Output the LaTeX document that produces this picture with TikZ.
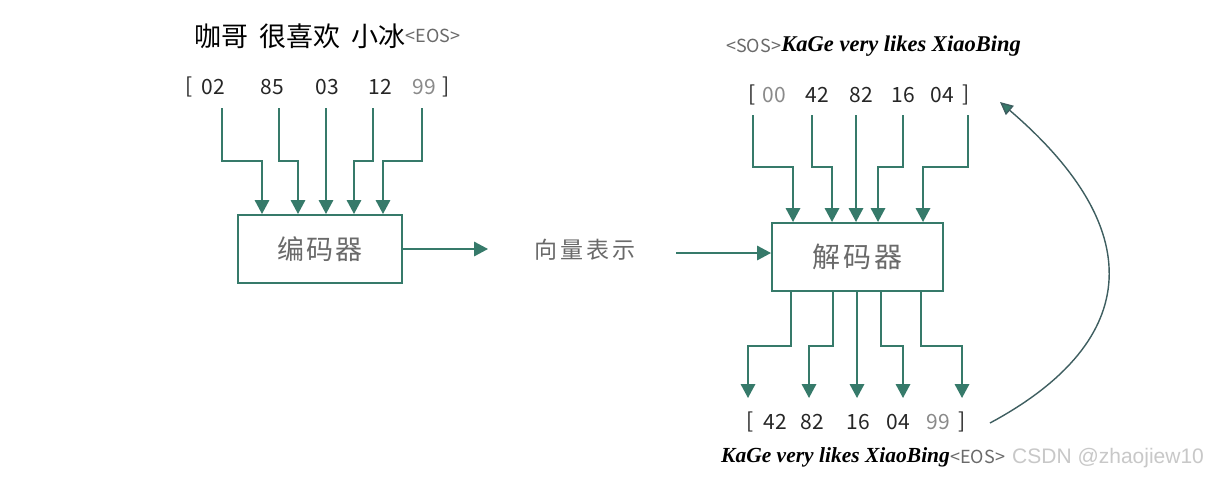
\documentclass[tikz,border=0pt]{standalone}
\usepackage{fontspec}
\setmainfont{Noto Sans CJK SC}
\newfontfamily\cjk{Noto Sans CJK SC}
\newfontfamily\hand{Liberation Serif}
\newfontfamily\wm{Liberation Sans}
\usetikzlibrary{arrows.meta}
\definecolor{teal1}{HTML}{367A6A}
\definecolor{curvec}{HTML}{3E5E60}
\definecolor{txtgray}{HTML}{6A6A6A}
\definecolor{lightg}{HTML}{8A8A8A}
\definecolor{wmgray}{HTML}{C8C8C8}
\tikzset{
  wire/.style={draw=teal1, line width=1.8pt},
  arr/.style={-{Triangle[width=14.5pt,length=14pt,fill=teal1]}},
  box/.style={draw=teal1, line width=2pt, fill=white, inner sep=0pt},
  tok/.style={inner sep=0pt, font=\cjk\fontsize{21}{21}\selectfont, text=black!85},
  tokg/.style={tok, text=lightg},
  boxtxt/.style={text=txtgray, font=\cjk\fontsize{27}{27}\selectfont},
  eng/.style={inner sep=0pt, font=\hand\bfseries\itshape\fontsize{22.5}{22.5}\selectfont},
  tag/.style={inner sep=0pt, text=txtgray, font=\cjk\fontsize{18}{18}\selectfont}
}
\begin{document}
\begin{tikzpicture}[x=1pt,y=-1pt]
\useasboundingbox[fill=white] (0,0) rectangle (1220,477);

% ---------- encoder side ----------
\node[inner sep=0pt, anchor=west, font=\cjk\fontsize{27}{27}\selectfont] (src) at (194,36)
  {咖哥\hspace{11pt}很喜欢\hspace{11pt}小冰};
\node[tag, anchor=west] (srceos) at (src.east) {<EOS>};

\node[tok] (eb1) at (189,87) {[};
\node[tok] (e1) at (213,87) {02};
\node[tok] (e2) at (272,87) {85};
\node[tok] (e3) at (327,87) {03};
\node[tok] (e4) at (380,87) {12};
\node[tokg] (e5) at (424,87) {99};
\node[tok] (eb2) at (446,87) {]};

\node[box, minimum width=164, minimum height=68] (enc) at (320,249) {};
\node[boxtxt] (enct) at (enc.center) {编\hspace{2pt}码\hspace{2pt}器};

\foreach \sx/\ex [count=\i] in {222/262, 279/298, 326/326, 373/354, 422/383} {
  \coordinate (es\i) at (\sx,108);
  \coordinate (em\i) at (\ex,161);
  \draw[wire,arr] (es\i) |- (em\i) -- (em\i |- enc.north);
}

\coordinate (encout) at (488,249);
\draw[wire,arr] (enc.east) -- (encout);
\node[boxtxt, font=\cjk\fontsize{23}{23}\selectfont] (vec) at (585,250) {向\hspace{3pt}量\hspace{3pt}表\hspace{3pt}示};

% ---------- decoder side ----------
\node[tag, anchor=west] (sos) at (726,46) {<SOS>};
\node[eng, anchor=west] (tgtin) at (sos.east) {KaGe very likes XiaoBing};

\node[tok] (db1) at (752,95) {[};
\node[tokg] (d0) at (774,95) {00};
\node[tok] (d1) at (817,95) {42};
\node[tok] (d2) at (861,95) {82};
\node[tok] (d3) at (903,95) {16};
\node[tok] (d4) at (942,95) {04};
\node[tok] (db2) at (966,95) {]};

\node[box, minimum width=171, minimum height=68] (dec) at (857.5,257) {};
\node[boxtxt, font=\cjk\fontsize{28}{28}\selectfont] (dect) at (dec.center) {解\hspace{3pt}码\hspace{3pt}器};

\coordinate (vin) at (676,253);
\draw[wire,arr] (vin) -- (vin -| dec.west);

\foreach \sx/\ex [count=\i] in {753/793, 812/832, 856/856, 903/878, 968/923} {
  \coordinate (ds\i) at (\sx,115);
  \coordinate (dm\i) at (\ex,167);
  \draw[wire,arr] (ds\i) |- (dm\i) -- (dm\i |- dec.north);
}

\foreach \sx/\ex [count=\i] in {791/748, 833/809, 857/857, 881/903, 921/962} {
  \coordinate (os\i) at (\sx,0);
  \coordinate (om\i) at (\ex,346);
  \coordinate (oe\i) at (\ex,398);
  \draw[wire,arr] (os\i |- dec.south) -- (os\i |- om\i) -| (oe\i);
}

\node[tok] (ob1) at (750,422) {[};
\node[tok] (o1) at (775,422) {42};
\node[tok] (o2) at (812,422) {82};
\node[tok] (o3) at (858,422) {16};
\node[tok] (o4) at (898,422) {04};
\node[tokg] (o5) at (938,422) {99};
\node[tok] (ob2) at (962,422) {]};

\node[eng, anchor=west, font=\hand\bfseries\itshape\fontsize{21.5}{21.5}\selectfont] (tgtout) at (721,457) {KaGe very likes XiaoBing};
\node[tag, anchor=west] (outeos) at (tgtout.east) {<EOS>};
\node[inner sep=0pt, anchor=west, text=wmgray, font=\wm\fontsize{21}{21}\selectfont] (wm) at (1012,458) {CSDN @zhaojiew10};

% feedback curve
\coordinate (cb) at (990,423);
\coordinate (ct) at (1000,102);
\draw[draw=curvec, line width=1.4pt, -{Triangle[width=12pt,length=13pt,fill=teal1]}]
  (cb) .. controls (1135,345) and (1155,235) .. (ct);
\end{tikzpicture}
\end{document}
